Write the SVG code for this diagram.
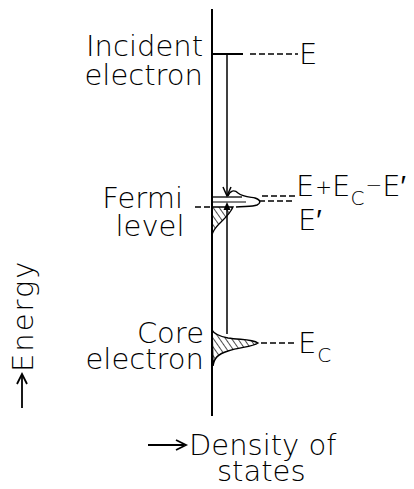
<svg xmlns="http://www.w3.org/2000/svg" width="414" height="489" viewBox="0 0 414 489">
<defs>
<style>
.t{font-family:"DejaVu Sans","Liberation Sans",sans-serif;font-size:29px;font-weight:200;fill:#000}
.ln{stroke:#000;fill:none;stroke-linecap:butt}
.d{stroke:#000;stroke-width:1.5;stroke-dasharray:6 3;fill:none}
</style>
<pattern id="hatch" patternUnits="userSpaceOnUse" width="5" height="5" patternTransform="rotate(-35)">
<line x1="0" y1="0" x2="0" y2="5" stroke="#000" stroke-width="1.4"/>
</pattern>
</defs>
<rect width="414" height="489" fill="#fff"/>

<g id="axes">
<line class="ln" x1="212" y1="9" x2="212" y2="416" stroke-width="2"/>
<line class="ln" x1="22" y1="408" x2="22" y2="376" stroke-width="1.8"/>
<path d="M17 384 L22 374 L27 384" class="ln" stroke-width="1.8"/>
<line class="ln" x1="148" y1="445" x2="184" y2="445" stroke-width="1.8"/>
<path d="M176 440 L186 445 L176 450" class="ln" stroke-width="1.8"/>
</g>

<g id="incident">
<line class="ln" x1="211" y1="54" x2="243" y2="54" stroke-width="2"/>
<text class="t" x="203" y="56" text-anchor="end">Incident</text>
<text class="t" x="203" y="85" text-anchor="end">electron</text>
<text class="t" x="299" y="64">E</text>
</g>

<g id="fermi">
<path d="M212 207 L233 207 C230 214,224 219,219 224 C215 228,213 231,212 235 Z" fill="url(#hatch)" stroke="#000" stroke-width="1.3"/>
<path d="M228 196 C230 191,234 189,238 193 C243 197,250 197,255 198 C261 200,261 203,257 205 C252 207,244 206,236 207" class="ln" stroke-width="1.4"/>
<line class="ln" x1="212" y1="197" x2="242" y2="197" stroke-width="1.3"/>
<line class="ln" x1="212" y1="202" x2="246" y2="202" stroke-width="1"/>
<text class="t" x="183" y="208" text-anchor="end">Fermi</text>
<text class="t" x="150" y="236" text-anchor="middle">level</text>
<text class="t" x="298" y="230">E′</text>
<text class="t" x="296" y="196">E<tspan font-size="20" dx="1" dy="-2">+</tspan><tspan dy="2">E</tspan><tspan font-size="20" dy="9">C</tspan><tspan font-size="20" dx="1" dy="-13">−</tspan><tspan dy="4">E′</tspan></text>
</g>

<g id="core">
<path d="M212 330 C214 334,218 336,228 338 C240 340,252 339,258 343 C252 347,240 347,228 351 C218 354,214 358,213 366 Z" fill="url(#hatch)" stroke="#000" stroke-width="1.5"/>
<text class="t" x="204" y="343" text-anchor="end">Core</text>
<text class="t" x="204" y="369" text-anchor="end">electron</text>
<text class="t" x="298" y="353">E<tspan font-size="20" dx="1" dy="9">C</tspan></text>
</g>

<g id="labels">
<text class="t" transform="translate(33,372) rotate(-90)" letter-spacing="2">Energy</text>
<text class="t" x="189" y="455">Density of</text>
<text class="t" x="217" y="481">states</text>
</g>

<g id="connectors">
<line class="d" x1="250" y1="54" x2="298" y2="54"/>
<line class="ln" x1="227" y1="54" x2="227" y2="195" stroke-width="1.5"/>
<path d="M223 187 L227 196 L231 187" class="ln" stroke-width="1.5"/>
<line class="ln" x1="227" y1="206" x2="227" y2="334" stroke-width="1.5"/>
<path d="M227 202 L223.5 210 L230.5 210 Z" fill="#000"/>
<line class="d" x1="262" y1="196" x2="295" y2="196"/>
<line class="d" x1="259" y1="201" x2="295" y2="201"/>
<line class="d" x1="195" y1="207" x2="211" y2="207" stroke-dasharray="4 3"/>
<line class="d" x1="261" y1="343" x2="296" y2="343"/>
</g>
</svg>
